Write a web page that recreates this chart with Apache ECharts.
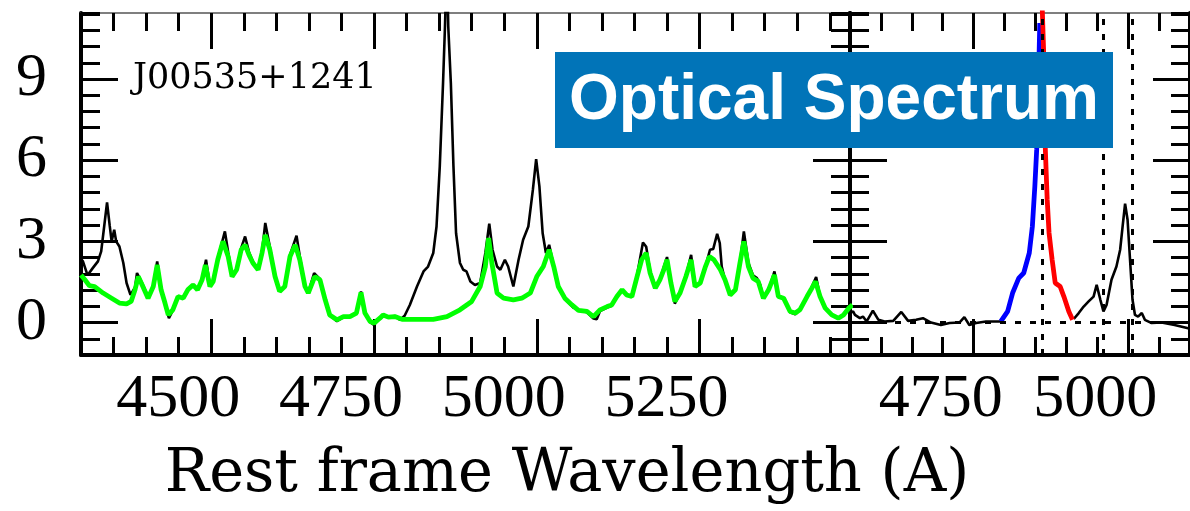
<!DOCTYPE html>
<html><head><meta charset="utf-8">
<script src="https://cdn.jsdelivr.net/npm/echarts@6/dist/echarts.min.js"></script>
<style>html,body{margin:0;padding:0;background:#fff}#c{width:1190px;height:511px}</style>
</head><body><div id="c"></div>
<script>
// ---------- data (rest-frame wavelength in Angstrom, flux) ----------
const leftBlackWl = [4300,4303,4310,4318,4326,4331,4335,4340,4344,4347,4351,4354,4359,4365,4370,4376,4383,4386,4395,4403,4411,4417,4423,4429,4435,4441,4449,4457,4464,4472,4479,4486,4492,4498,4503,4510,4521,4526,4532,4539,4546,4552,4558,4564,4572,4578,4583,4590,4598,4605,4613,4621,4631,4636,4644,4649,4658,4667,4675,4682,4693,4703,4713,4723,4730,4736,4744,4750,4759,4764,4772,4782,4790,4797,4805,4816,4826,4833,4841,4846,4851,4856,4859,4862,4864,4868,4872,4876,4882,4887,4892,4898,4905,4913,4921,4927,4932,4939,4944,4951,4956,4964,4972,4979,4987,4994,4999,5004,5009,5014,5019,5025,5033,5046,5056,5066,5077,5087,5092,5097,5108,5115,5123,5131,5138,5146,5154,5163,5168,5174,5182,5189,5200,5206,5212,5220,5229,5237,5243,5251,5259,5266,5271,5277,5281,5284,5289,5297,5305,5312,5318,5325,5332,5338,5343,5348,5356,5365,5371,5379,5389,5397,5404,5415,5421,5429,5435,5443,5453,5463,5471,5479,5485];
const leftBlackFlux = [2.35,2.26,1.75,2.01,2.26,2.63,3.43,4.44,3.6,3.0,3.43,3.0,2.81,2.2,1.46,1.02,1.3,1.83,1.4,0.95,1.35,2.26,1.25,0.72,0.16,0.45,0.96,0.92,1.23,1.4,1.22,1.6,2.32,1.35,1.52,2.35,3.37,2.6,1.72,1.97,2.75,3.18,2.6,2.25,1.97,2.6,3.68,2.8,1.72,1.15,1.35,2.5,3.21,2.45,1.35,1.1,1.83,1.6,0.84,0.28,0.05,0.2,0.22,0.35,1.15,0.35,0.02,-0.09,0.16,0.28,0.2,0.24,0.1,0.25,0.65,1.33,1.89,2.07,2.57,3.55,5.77,8.85,10.95,13.5,10.95,8.85,5.77,3.3,2.2,1.95,1.89,1.52,1.39,1.46,2.57,3.65,2.69,2.07,1.95,2.32,2.07,1.33,2.32,3.06,3.55,4.91,6.04,5.03,3.3,2.57,2.87,2.2,1.33,0.8,0.55,0.45,0.38,0.15,0.12,0.42,0.55,0.62,0.96,1.21,1.02,0.96,1.75,2.96,2.8,1.9,1.3,1.6,2.42,1.5,0.7,1.09,1.72,2.5,1.35,1.46,2.07,2.69,2.72,3.28,2.94,2.07,1.58,1.0,1.21,2.2,3.37,2.2,1.75,1.64,1.4,0.9,1.21,1.89,1.0,0.9,0.38,0.3,0.47,0.96,1.25,1.68,0.96,0.53,0.28,0.14,0.28,0.53,0.65];

const leftFeWl = [4300,4306,4313,4321,4334,4347,4359,4370,4377,4383,4388,4395,4403,4411,4417,4423,4429,4434,4441,4449,4457,4464,4472,4479,4486,4491,4498,4503,4510,4518,4526,4532,4539,4546,4552,4558,4564,4572,4578,4583,4590,4598,4605,4613,4621,4629,4636,4644,4649,4659,4667,4675,4682,4693,4703,4713,4723,4730,4736,4744,4750,4759,4764,4772,4782,4793,4805,4841,4862,4882,4900,4913,4921,4926,4931,4939,4949,4964,4977,4990,5000,5010,5019,5026,5033,5043,5054,5064,5077,5087,5097,5108,5115,5123,5131,5138,5146,5154,5161,5168,5174,5182,5189,5195,5200,5206,5212,5220,5229,5237,5243,5251,5259,5265,5272,5282,5289,5297,5305,5312,5318,5325,5332,5340,5348,5356,5365,5371,5379,5389,5397,5404,5415,5421,5428,5435,5443,5453,5463,5471,5479,5485];
const leftFeFlux = [1.76,1.58,1.36,1.33,1.09,0.9,0.72,0.69,0.78,1.21,1.7,1.33,0.9,1.33,2.13,1.21,0.72,0.28,0.47,0.96,0.9,1.21,1.39,1.21,1.58,2.13,1.33,1.52,2.32,3.0,2.44,1.7,1.95,2.69,2.87,2.5,2.2,1.95,2.57,3.24,2.69,1.7,1.15,1.33,2.44,2.87,2.32,1.33,1.09,1.7,1.58,0.84,0.28,0.1,0.22,0.22,0.35,1.11,0.35,0.04,-0.02,0.16,0.28,0.2,0.22,0.12,0.12,0.12,0.22,0.47,0.78,1.33,2.07,3.12,2.2,1.09,0.9,0.84,0.9,1.09,1.7,2.07,2.69,2.07,1.33,0.9,0.65,0.45,0.41,0.22,0.47,0.59,0.65,0.96,1.21,1.02,0.96,1.7,2.32,2.57,1.83,1.27,1.58,1.95,2.32,1.46,0.78,1.09,1.7,2.32,1.33,1.46,2.07,2.44,2.32,1.95,1.58,1.02,1.21,2.2,3.0,2.07,1.64,1.52,0.9,1.21,1.76,0.96,0.9,0.41,0.35,0.47,0.96,1.21,1.52,0.96,0.53,0.28,0.16,0.28,0.53,0.65];

const rightBlackWl = [4550,4555,4558,4566,4571,4577,4587,4596,4606,4620,4633,4644,4657,4668,4681,4697,4711,4727,4735,4743,4754,4770,4786,4794,null,4912,4920,4928,4936,4944,4949,4955,4960,4965,4973,4981,4987,4991,4995,4999,5003,5007,5011,5016,5022,5027,5038,5054,5075,5097,5100];
const rightBlackFlux = [0.35,0.41,0.28,0.16,0.22,0.04,0.44,0.1,0.04,0.06,0.39,0.06,0.1,0.16,0.0,-0.09,-0.02,0.0,0.2,-0.09,-0.02,0.04,0.04,0.04,null,0.13,0.35,0.59,0.78,0.96,1.39,0.84,0.41,0.65,1.58,2.07,2.69,3.55,4.39,3.8,2.32,0.84,0.28,0.22,0.35,0.1,-0.02,0.0,-0.09,-0.21,-0.22];

const blueWingWl = [4794,4805,4813,4823,4831,4840,4845,4849,4852,4855,4857];
const blueWingFlux = [0.04,0.41,1.09,1.64,1.83,2.57,3.55,5.03,6.39,9.0,11.07];

const redWingWl = [4861,4864,4866,4869,4872,4877,4882,4890,4896,4904,4910];
const redWingFlux = [11.6,9.47,6.39,4.54,3.31,2.32,1.46,1.33,0.96,0.41,0.1];

const lineMarks = [4861, 4959, 5007];
const yTickLabels = [0, 3, 6, 9];
const leftXTickLabels = [4500, 4750, 5000, 5250];
const rightXTickLabels = [4750, 5000];
const objectName = 'J00535+1241';
const bannerText = 'Optical Spectrum';
const xTitle = 'Rest frame Wavelength (A)';

// ---------- chart ----------
const pairs = (xs, ys) => xs.map((x, i) => (x === null ? null : [x, ys[i]]));
const Y_MIN = -1.2, Y_MAX = 11.44;
const LEFT_RANGE = [4300, 5481], RIGHT_RANGE = [4550, 5100];
const plain = v => String(Math.round(v));

function xAxes(gridIndex, range, majors, showLabels) {
  const base = {type: 'value', gridIndex, min: range[0], max: range[1], splitLine: {show: false}};
  const out = [];
  ['bottom', 'top'].forEach(pos => {
    out.push(Object.assign({}, base, {
      position: pos, interval: 50,
      axisLine: {show: true, onZero: false, lineStyle: {color: pos === 'top' ? '#555' : '#000', width: pos === 'top' ? 1.5 : 4}},
      axisTick: {show: true, inside: true, length: 18, lineStyle: {color: '#000', width: 3}},
      axisLabel: {show: false}
    }));
    out.push(Object.assign({}, base, {
      position: pos,
      axisLine: {show: false, onZero: false},
      axisTick: {show: true, inside: true, length: 36, customValues: majors, lineStyle: {color: '#000', width: 3}},
      axisLabel: (pos === 'bottom' && showLabels) ? {
        show: true, customValues: majors, formatter: plain, color: '#000', fontFamily: 'Liberation Serif',
        fontSize: 62, margin: 14, padding: [0, 66, 0, 0]
      } : {show: false}
    }));
  });
  return out;
}
function yAxes(gridIndex, showLabelsLeft) {
  const base = {type: 'value', gridIndex, min: Y_MIN, max: Y_MAX, splitLine: {show: false}};
  const out = [];
  ['left', 'right'].forEach(pos => {
    out.push(Object.assign({}, base, {
      position: pos, interval: 0.6,
      axisLine: {show: true, onZero: false, lineStyle: {color: '#000', width: 4}},
      axisTick: {show: true, inside: true, length: 19, lineStyle: {color: '#000', width: 3}},
      axisLabel: {show: false}
    }));
    out.push(Object.assign({}, base, {
      position: pos,
      axisLine: {show: false, onZero: false},
      axisTick: {show: true, inside: true, length: 37, customValues: yTickLabels, lineStyle: {color: '#000', width: 3}},
      axisLabel: (pos === 'left' && showLabelsLeft) ? {
        show: true, customValues: yTickLabels, formatter: plain, color: '#000', fontFamily: 'Liberation Serif',
        fontSize: 62, margin: 34
      } : {show: false}
    }));
  });
  return out;
}

const chart = echarts.init(document.getElementById('c'), null, {renderer: 'canvas'});
const option = {
  animation: false,
  backgroundColor: '#fff',
  grid: [
    {left: 81, top: 13, width: 769, height: 342},
    {left: 850, top: 13, width: 342, height: 342}
  ],
  xAxis: [...xAxes(0, LEFT_RANGE, leftXTickLabels, true), ...xAxes(1, RIGHT_RANGE, rightXTickLabels, true)],
  yAxis: [...yAxes(0, true), ...yAxes(1, false)],
  series: [
    {type: 'line', xAxisIndex: 0, yAxisIndex: 0, data: pairs(leftBlackWl, leftBlackFlux), showSymbol: false, symbol: 'none',
     lineStyle: {color: '#000', width: 2.6}, clip: true, z: 2},
    {type: 'line', xAxisIndex: 0, yAxisIndex: 0, data: pairs(leftFeWl, leftFeFlux), showSymbol: false, symbol: 'none',
     lineStyle: {color: '#00ff00', width: 4.8}, clip: true, z: 3},
    {type: 'line', xAxisIndex: 4, yAxisIndex: 4, data: pairs(rightBlackWl, rightBlackFlux), showSymbol: false, symbol: 'none',
     connectNulls: false, lineStyle: {color: '#000', width: 2.6}, clip: true, z: 2,
     markLine: {silent: true, symbol: ['none', 'none'], label: {show: false},
       lineStyle: {color: '#000', width: 3, type: [6, 9]},
       data: [...lineMarks.map(v => ({xAxis: v})), {yAxis: 0}]}},
    {type: 'line', xAxisIndex: 4, yAxisIndex: 4, data: pairs(blueWingWl, blueWingFlux), showSymbol: false, symbol: 'none',
     lineStyle: {color: '#0000ff', width: 4.8}, clip: true, z: 3},
    {type: 'line', xAxisIndex: 4, yAxisIndex: 4, data: pairs(redWingWl, redWingFlux), showSymbol: false, symbol: 'none',
     lineStyle: {color: '#ff0000', width: 4.8}, clip: true, z: 3}
  ],
  graphic: [
    {type: 'rect', shape: {x: 555, y: 52, width: 558, height: 96}, style: {fill: '#0174b8'}, z: 100},
    {type: 'text', x: 834, y: 101, z: 101, style: {text: bannerText, fill: '#fff', align: 'center', verticalAlign: 'middle',
      font: 'bold 64px "Liberation Sans", Arial, sans-serif'}},
    {type: 'text', x: 133, y: 79, z: 50, style: {text: objectName, fill: '#000', align: 'left', verticalAlign: 'middle',
      font: '35px "DejaVu Serif", serif'}},
    {type: 'text', x: 567, y: 476, z: 50, style: {text: xTitle, fill: '#000', align: 'center', verticalAlign: 'middle',
      font: '59px "DejaVu Serif", serif'}}
  ]
};
chart.setOption(option);
</script>
</body></html>
